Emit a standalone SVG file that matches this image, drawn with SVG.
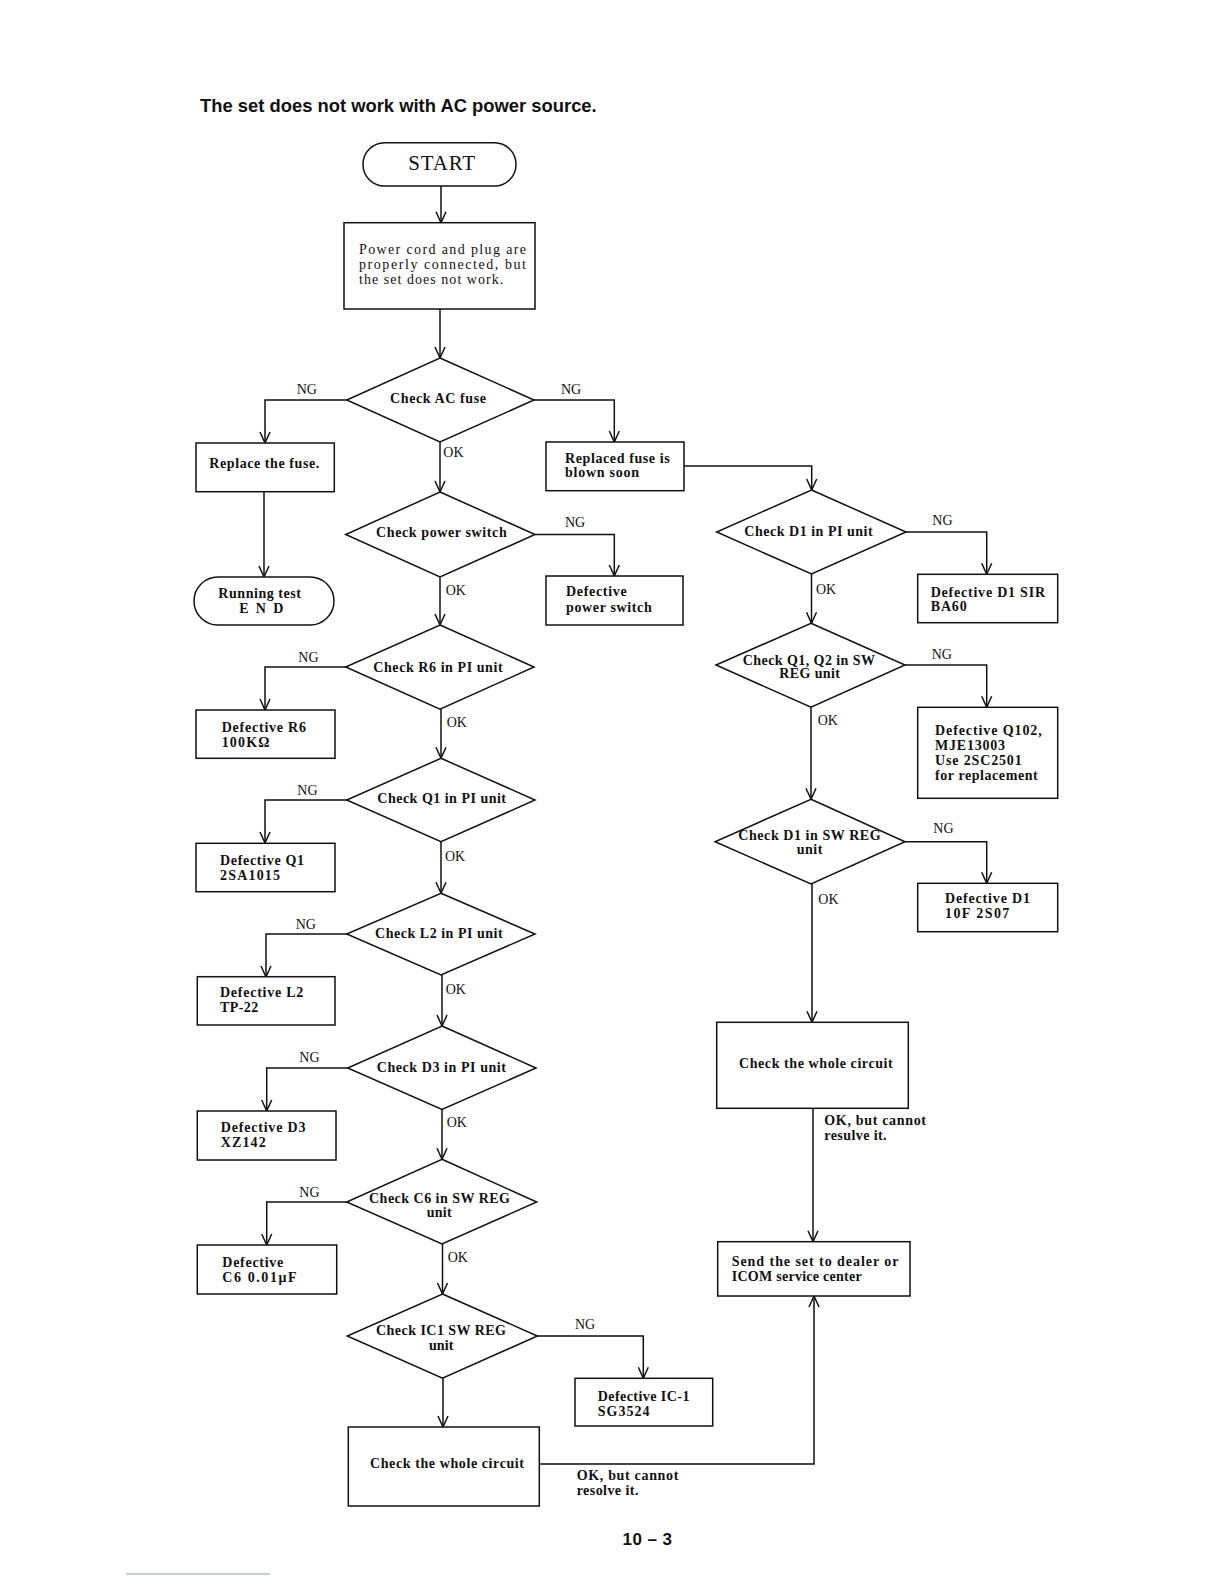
<svg xmlns="http://www.w3.org/2000/svg" width="1224" height="1584" viewBox="0 0 1224 1584">
<style>
.n{fill:#fff;stroke:#111;stroke-width:1.5}
.c{fill:none;stroke:#111;stroke-width:1.5}
.a{marker-end:url(#arr)}
.b{font-family:"Liberation Serif","DejaVu Serif",serif;font-size:14px;font-weight:bold;fill:#111}
.r{font-family:"Liberation Serif","DejaVu Serif",serif;font-size:14px;fill:#111}
.s{font-family:"Liberation Serif","DejaVu Serif",serif;font-size:21px;fill:#111}
.h{font-family:"Liberation Sans",Arial,sans-serif;font-weight:bold;fill:#111}
</style>
<defs>
<marker id="arr" markerUnits="userSpaceOnUse" markerWidth="14" markerHeight="12" refX="11" refY="5" orient="auto" overflow="visible">
<path d="M0,0 L11,5 L0,10" fill="none" stroke="#111" stroke-width="1.5"/>
</marker>
</defs>
<rect width="1224" height="1584" fill="#fff"/>
<text class="h" x="200" y="111.7" font-size="19" textLength="396.7" lengthAdjust="spacingAndGlyphs">The set does not work with AC power source.</text>

<g id="connectors">
<path class="c a" d="M441,186 V222.7"/>
<path class="c a" d="M440,309 V358"/>
<path class="c a" d="M346.7,400 H265 V443"/>
<path class="c a" d="M534,400 H614.3 V442"/>
<path class="c a" d="M440,442 V492"/>
<path class="c a" d="M264,492 V577"/>
<path class="c a" d="M684,466 H811.7 V490"/>
<path class="c a" d="M535,534.5 H614.3 V576"/>
<path class="c a" d="M440,577 V625"/>
<path class="c a" d="M345.7,667 H265 V710"/>
<path class="c a" d="M441,709 V758.3"/>
<path class="c a" d="M346.7,800 H265 V843"/>
<path class="c a" d="M441,842 V893.3"/>
<path class="c a" d="M346.7,934 H266 V977"/>
<path class="c a" d="M442,975 V1026"/>
<path class="c a" d="M347.7,1068 H266.7 V1111"/>
<path class="c a" d="M442,1109.5 V1159.3"/>
<path class="c a" d="M346.7,1202 H266.7 V1245"/>
<path class="c a" d="M442.5,1244 V1294"/>
<path class="c a" d="M537.3,1336 H643.3 V1378.3"/>
<path class="c a" d="M443,1378.3 V1427"/>
<path class="c a" d="M539.3,1464 H814 V1296"/>
<path class="c a" d="M906,532 H986.7 V574.3"/>
<path class="c a" d="M811.5,574 V623.3"/>
<path class="c a" d="M905,665 H986.7 V707.3"/>
<path class="c a" d="M811,707.3 V799.3"/>
<path class="c a" d="M905,841.7 H986.7 V883.3"/>
<path class="c a" d="M812,884 V1022.3"/>
<path class="c a" d="M813,1108.3 V1241.7"/>
</g>

<g id="labels">
<text class="r" x="296.7" y="394">NG</text>
<text class="r" x="561" y="394">NG</text>
<text class="r" x="443.3" y="457.3">OK</text>
<text class="r" x="565" y="527">NG</text>
<text class="r" x="445.7" y="595">OK</text>
<text class="r" x="298.3" y="661.7">NG</text>
<text class="r" x="446.7" y="727">OK</text>
<text class="r" x="297.3" y="795">NG</text>
<text class="r" x="445" y="861">OK</text>
<text class="r" x="295.7" y="929">NG</text>
<text class="r" x="445.7" y="994">OK</text>
<text class="r" x="299.3" y="1062">NG</text>
<text class="r" x="446.7" y="1126.7">OK</text>
<text class="r" x="299.3" y="1197.3">NG</text>
<text class="r" x="447.7" y="1261.7">OK</text>
<text class="r" x="575" y="1329.3">NG</text>
<text class="b" x="576.7" y="1480" textLength="101.7">OK, but cannot</text>
<text class="b" x="576.7" y="1495" textLength="61.7">resolve it.</text>
<text class="r" x="932.3" y="525">NG</text>
<text class="r" x="816" y="594">OK</text>
<text class="r" x="931.7" y="659.3">NG</text>
<text class="r" x="817.7" y="725">OK</text>
<text class="r" x="933.3" y="832.7">NG</text>
<text class="r" x="818.3" y="904">OK</text>
<text class="b" x="824.3" y="1125" textLength="101.7">OK, but cannot</text>
<text class="b" x="824.3" y="1140" textLength="62.3">resulve it.</text>
</g>

<g id="start">
<rect class="n" x="363" y="142.7" width="153" height="43.3" rx="21.6"/>
<text class="s" x="408.3" y="170" textLength="66.7">START</text>
</g>
<g id="power-cord">
<rect class="n" x="344" y="222.7" width="191" height="86.3"/>
<text class="r" x="359" y="254" textLength="167">Power cord and plug are</text>
<text class="r" x="359" y="269.3" textLength="167">properly  connected, but</text>
<text class="r" x="359" y="284" textLength="144.3">the set does not work.</text>
</g>
<g id="check-ac-fuse">
<polygon class="n" points="440,358 534,400 440,442 346.7,400"/>
<text class="b" x="390" y="403" textLength="96">Check AC fuse</text>
</g>
<g id="replace-fuse">
<rect class="n" x="196" y="443" width="138.3" height="48.7"/>
<text class="b" x="209.3" y="468.3" textLength="110">Replace the fuse.</text>
</g>
<g id="running-test">
<rect class="n" x="194" y="577" width="140" height="48" rx="24"/>
<text class="b" x="218.3" y="598.3" textLength="82.7">Running test</text>
<text class="b" x="239.3" y="613.3" textLength="44">E N D</text>
</g>
<g id="replaced-fuse-blown">
<rect class="n" x="546" y="442" width="138" height="48.7"/>
<text class="b" x="565" y="462.7" textLength="104.7">Replaced fuse is</text>
<text class="b" x="565" y="477.3" textLength="74">blown soon</text>
</g>
<g id="check-power-switch">
<polygon class="n" points="440,492 535,534.5 440,577 345.7,534.5"/>
<text class="b" x="376" y="537" textLength="130.7">Check power switch</text>
</g>
<g id="defective-power-switch">
<rect class="n" x="546" y="576" width="137" height="49"/>
<text class="b" x="566" y="596" textLength="60.7">Defective</text>
<text class="b" x="566" y="611.7" textLength="85.7">power switch</text>
</g>
<g id="check-r6">
<polygon class="n" points="440,625 534,667 440,709.3 345.7,667"/>
<text class="b" x="373.3" y="671.7" textLength="129.3">Check R6 in PI unit</text>
</g>
<g id="defective-r6">
<rect class="n" x="196" y="710" width="139" height="48.3"/>
<text class="b" x="221.7" y="731.7" textLength="84.3">Defective R6</text>
<text class="b" x="221.7" y="746.7" textLength="47.7">100KΩ</text>
</g>
<g id="check-q1">
<polygon class="n" points="441,758.3 535,800 441,841.7 346.7,800"/>
<text class="b" x="377.3" y="803.3" textLength="128.7">Check Q1 in PI unit</text>
</g>
<g id="defective-q1">
<rect class="n" x="196" y="843.3" width="139" height="48.4"/>
<text class="b" x="220" y="865" textLength="84">Defective Q1</text>
<text class="b" x="220" y="880" textLength="60">2SA1015</text>
</g>
<g id="check-l2">
<polygon class="n" points="441,893.3 535,934 441,975 346.7,934"/>
<text class="b" x="375" y="938.3" textLength="127.7">Check L2 in PI unit</text>
</g>
<g id="defective-l2">
<rect class="n" x="197.3" y="976.7" width="137.7" height="48.3"/>
<text class="b" x="220" y="996.7" textLength="83.3">Defective L2</text>
<text class="b" x="220" y="1011.7" textLength="38.3">TP-22</text>
</g>
<g id="check-d3">
<polygon class="n" points="442,1026 536,1068 442,1109.5 347.7,1068"/>
<text class="b" x="376.7" y="1071.7" textLength="129.3">Check D3 in PI unit</text>
</g>
<g id="defective-d3">
<rect class="n" x="197.3" y="1111" width="138.7" height="49"/>
<text class="b" x="220.7" y="1131.7" textLength="84.7">Defective D3</text>
<text class="b" x="220.7" y="1146.7" textLength="45">XZ142</text>
</g>
<g id="check-c6">
<polygon class="n" points="442,1159.3 536.7,1202 442,1244 346.7,1202"/>
<text class="b" x="369" y="1203.3" textLength="141">Check C6 in SW REG</text>
<text class="b" x="426.7" y="1217.3" textLength="25">unit</text>
</g>
<g id="defective-c6">
<rect class="n" x="197.3" y="1245" width="139.4" height="49"/>
<text class="b" x="222.3" y="1267.3" textLength="61">Defective</text>
<text class="b" x="222.3" y="1281.7" textLength="74.3">C6  0.01μF</text>
</g>
<g id="check-ic1">
<polygon class="n" points="442.5,1294 537.3,1336 442.5,1378.3 347.3,1336"/>
<text class="b" x="376" y="1335" textLength="130">Check IC1 SW REG</text>
<text class="b" x="429" y="1350" textLength="24.3">unit</text>
</g>
<g id="defective-ic1">
<rect class="n" x="575" y="1378.3" width="137.7" height="47.7"/>
<text class="b" x="597.7" y="1400.7" textLength="91.7">Defective IC-1</text>
<text class="b" x="597.7" y="1416" textLength="51.7">SG3524</text>
</g>
<g id="check-whole-circuit-left">
<rect class="n" x="348.3" y="1427" width="191" height="79"/>
<text class="b" x="370" y="1468.3" textLength="154">Check the whole circuit</text>
</g>
<g id="check-d1-pi">
<polygon class="n" points="811.5,490 906,532 811.5,574 716.7,532"/>
<text class="b" x="744.3" y="536" textLength="128.3">Check D1 in PI unit</text>
</g>
<g id="defective-d1-sir">
<rect class="n" x="917.7" y="574.3" width="140" height="48.4"/>
<text class="b" x="930.7" y="596.7" textLength="114.3">Defective D1 SIR</text>
<text class="b" x="930.7" y="611" textLength="36">BA60</text>
</g>
<g id="check-q1q2">
<polygon class="n" points="811,623.3 905,665 811,707.3 716,665"/>
<text class="b" x="742.7" y="665" textLength="132.3">Check Q1, Q2 in SW</text>
<text class="b" x="779.3" y="678.3" textLength="60.7">REG unit</text>
</g>
<g id="defective-q102">
<rect class="n" x="917.7" y="707.3" width="140" height="91"/>
<text class="b" x="935" y="735" textLength="106.7">Defective Q102,</text>
<text class="b" x="935" y="750" textLength="70">MJE13003</text>
<text class="b" x="935" y="765" textLength="86.7">Use 2SC2501</text>
<text class="b" x="935" y="780" textLength="102.7">for replacement</text>
</g>
<g id="check-d1-sw">
<polygon class="n" points="811,799.3 905,841.7 811,884 715,841.7"/>
<text class="b" x="738.3" y="840" textLength="142.3">Check D1 in SW REG</text>
<text class="b" x="796.7" y="854.3" textLength="25.7">unit</text>
</g>
<g id="defective-d1-10f">
<rect class="n" x="917.7" y="883.3" width="140" height="48.4"/>
<text class="b" x="945" y="903.3" textLength="85">Defective D1</text>
<text class="b" x="945" y="918.3" textLength="64.3">10F 2S07</text>
</g>
<g id="check-whole-circuit-right">
<rect class="n" x="716.7" y="1022.3" width="191.6" height="86"/>
<text class="b" x="739" y="1068.3" textLength="153.7">Check the whole circuit</text>
</g>
<g id="send-to-dealer">
<rect class="n" x="717.7" y="1241.7" width="192.3" height="54.3"/>
<text class="b" x="731.7" y="1266" textLength="166.7">Send  the set to dealer or</text>
<text class="b" x="731.7" y="1280.7" textLength="130">ICOM service center</text>
</g>

<text class="h" x="622.5" y="1545" font-size="17" textLength="49.5">10 – 3</text>
<line x1="126" y1="1574" x2="270" y2="1574" stroke="#7a9ad8" stroke-width="1"/>
</svg>
